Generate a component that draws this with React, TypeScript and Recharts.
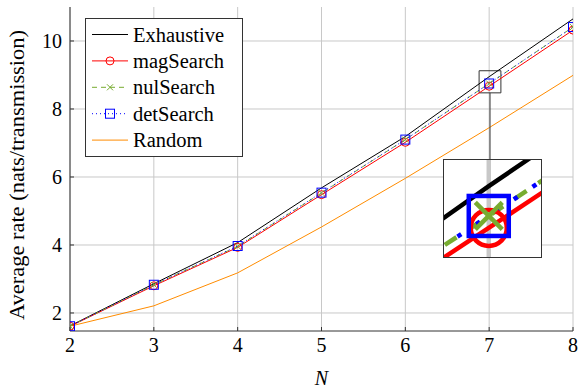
import React from 'react';
import {
  LineChart,
  Line,
  XAxis,
  YAxis,
  CartesianGrid,
  ReferenceArea,
  ReferenceLine,
  Legend,
} from 'recharts';

// ---------------- data ----------------
const nValues = [2, 3, 4, 5, 6, 7, 8];
const exhaustive = [1.62, 2.86, 4.07, 5.68, 7.19, 8.95, 10.65];
const magSearch = [1.61, 2.8, 3.93, 5.48, 7.02, 8.67, 10.32];
const nulSearch = [1.61, 2.83, 3.96, 5.53, 7.1, 8.75, 10.41];
const detSearch = [1.61, 2.83, 3.97, 5.54, 7.1, 8.75, 10.41];
const randomSel = [1.61, 2.21, 3.18, 4.53, 5.96, 7.45, 8.99];

const xTicks = [2, 3, 4, 5, 6, 7, 8];
const yTicks = [2, 4, 6, 8, 10];
const xDomain: [number, number] = [2, 8];
const yDomain: [number, number] = [1.47, 11.0];

// zoom window shown in the inset
const zoomX: [number, number] = [6.88, 7.14];
const zoomY: [number, number] = [8.475, 9.125];
const connectorBottomY = 6.5;

const seriesNames = ['Exhaustive', 'magSearch', 'nulSearch', 'detSearch', 'Random'];

const data = nValues.map((n, i) => ({
  n,
  exhaustive: exhaustive[i],
  magSearch: magSearch[i],
  nulSearch: nulSearch[i],
  detSearch: detSearch[i],
  random: randomSel[i],
}));

// ---------------- style ----------------
const FONT = "'Liberation Serif', 'DejaVu Serif', serif";
const FRAME = '#333333';
const GRID = '#c8c8c8';
const BLACK = '#000000';
const RED = '#ff0000';
const GREEN = '#77ac30';
const BLUE = '#0000ff';
const ORANGE = '#ff8c00';

type MarkerKind = 'circle' | 'cross' | 'square';

function Marker({ kind, cx, cy, s, color, sw }: { kind: MarkerKind; cx: number; cy: number; s: number; color: string; sw: number }) {
  if (kind === 'circle') return <circle cx={cx} cy={cy} r={s} fill="none" stroke={color} strokeWidth={sw} />;
  if (kind === 'square')
    return <rect x={cx - s} y={cy - s} width={2 * s} height={2 * s} fill="none" stroke={color} strokeWidth={sw} />;
  return (
    <g stroke={color} strokeWidth={sw}>
      <line x1={cx - s} y1={cy - s} x2={cx + s} y2={cy + s} />
      <line x1={cx - s} y1={cy + s} x2={cx + s} y2={cy - s} />
    </g>
  );
}

const makeDot = (kind: MarkerKind, s: number, color: string, sw: number) => (p: any) => {
  const { cx, cy, index } = p;
  if (cx == null || cy == null || !isFinite(cx) || !isFinite(cy)) return <g key={`d-${index}`} />;
  return (
    <g key={`d-${index}`}>
      <Marker kind={kind} cx={cx} cy={cy} s={s} color={color} sw={sw} />
    </g>
  );
};

// ---------------- legend ----------------
const legendRows: { color: string; dash?: string; marker?: MarkerKind; s?: number }[] = [
  { color: BLACK },
  { color: RED, marker: 'circle', s: 4 },
  { color: GREEN, dash: '5 4', marker: 'cross', s: 3 },
  { color: BLUE, dash: '1 3', marker: 'square', s: 4.5 },
  { color: ORANGE },
];

const renderLegend = () => (
  <svg width={158} height={139} style={{ display: 'block' }}>
    <rect x={0.5} y={0.5} width={157} height={138} fill="#ffffff" stroke={FRAME} strokeWidth={1} />
    {legendRows.map((r, i) => {
      const y = 16.5 + i * 26.4;
      return (
        <g key={i}>
          <line x1={7} x2={43} y1={y} y2={y} stroke={r.color} strokeWidth={1} strokeDasharray={r.dash} />
          {r.marker && <Marker kind={r.marker} cx={25} cy={y} s={r.s || 4} color={r.color} sw={1} />}
          <text x={48} y={y} dy="0.35em" style={{ fontFamily: FONT, fontSize: 20.5 }} fill="#000">
            {seriesNames[i]}
          </text>
        </g>
      );
    })}
  </svg>
);

// ---------------- labels ----------------
const YTitle = (props: any) => {
  const vb = props.viewBox || { x: 0, y: 0, width: 70, height: 324 };
  const x = vb.x + 17;
  const y = vb.y + vb.height / 2 + 6;
  return (
    <text
      x={x}
      y={y}
      transform={`rotate(-90 ${x} ${y})`}
      textAnchor="middle"
      dominantBaseline="central"
      textLength={290}
      lengthAdjust="spacingAndGlyphs"
      style={{ fontFamily: FONT, fontSize: 20.5 }}
      fill="#000"
    >
      Average rate (nats/transmission)
    </text>
  );
};

const XTitle = (props: any) => {
  const vb = props.viewBox || { x: 70, y: 331, width: 503, height: 58 };
  return (
    <text
      x={vb.x + vb.width / 2}
      y={vb.y + 47}
      textAnchor="middle"
      dominantBaseline="central"
      style={{ fontFamily: FONT, fontSize: 20, fontStyle: 'italic' }}
      fill="#000"
    >
      N
    </text>
  );
};

const tickStyle = { fontFamily: FONT, fontSize: 20, fill: '#000', style: { fontFamily: FONT } };

export default function App() {
  return (
    <div style={{ position: 'absolute', left: 0, top: 0, width: 579, height: 389, background: '#fff', fontFamily: FONT }}>
      <LineChart width={579} height={389} data={data} margin={{ top: 7, right: 6, bottom: 0, left: 0 }}>
        <CartesianGrid stroke={GRID} strokeWidth={1} horizontalValues={yTicks} verticalValues={xTicks} />
        <XAxis
          dataKey="n"
          type="number"
          domain={xDomain}
          ticks={xTicks}
          allowDataOverflow
          height={58}
          stroke={FRAME}
          tickSize={-4}
          tickMargin={10.5}
          tick={tickStyle}
          label={<XTitle />}
        />
        <XAxis
          xAxisId="top"
          orientation="top"
          type="number"
          dataKey="n"
          domain={xDomain}
          ticks={xTicks}
          allowDataOverflow
          height={0}
          stroke={FRAME}
          tickSize={-4}
          tick={{ fill: 'none', fontSize: 1 }}
        />
        <YAxis
          type="number"
          domain={yDomain}
          ticks={yTicks}
          allowDataOverflow
          width={70}
          stroke={FRAME}
          tickSize={-4}
          tickMargin={12}
          tick={tickStyle}
          label={<YTitle />}
        />
        <YAxis
          yAxisId="right"
          orientation="right"
          type="number"
          domain={yDomain}
          ticks={yTicks}
          allowDataOverflow
          width={0}
          stroke={FRAME}
          tickSize={-4}
          tick={{ fill: 'none', fontSize: 1 }}
        />
        <Legend
          layout="vertical"
          align="center"
          verticalAlign="middle"
          content={renderLegend}
          wrapperStyle={{ position: 'absolute', left: 85, top: 18, width: 158, height: 139 }}
        />
        <Line dataKey="random" stroke={ORANGE} strokeWidth={1} dot={false} isAnimationActive={false} />
        <Line dataKey="exhaustive" stroke={BLACK} strokeWidth={1} dot={false} isAnimationActive={false} />
        <Line
          dataKey="magSearch"
          stroke={RED}
          strokeWidth={1}
          dot={makeDot('circle', 4, RED, 1)}
          isAnimationActive={false}
        />
        <Line
          dataKey="nulSearch"
          stroke={GREEN}
          strokeWidth={1}
          strokeDasharray="5 4"
          dot={makeDot('cross', 3, GREEN, 1)}
          isAnimationActive={false}
        />
        <Line
          dataKey="detSearch"
          stroke={BLUE}
          strokeWidth={1}
          strokeDasharray="1 3"
          dot={makeDot('square', 4.5, BLUE, 1)}
          isAnimationActive={false}
        />
        <ReferenceArea
          x1={zoomX[0]}
          x2={zoomX[1]}
          y1={zoomY[0]}
          y2={zoomY[1]}
          fill="none"
          fillOpacity={0}
          stroke={FRAME}
          strokeWidth={1}
          strokeOpacity={1}
        />
        <ReferenceLine
          segment={[
            { x: (zoomX[0] + zoomX[1]) / 2, y: zoomY[0] },
            { x: (zoomX[0] + zoomX[1]) / 2, y: connectorBottomY },
          ]}
          stroke={FRAME}
          strokeWidth={1}
        />
      </LineChart>

      {/* inset magnification */}
      <div
        style={{
          position: 'absolute',
          left: 443,
          top: 159,
          width: 99,
          height: 99,
          boxSizing: 'border-box',
          border: `1px solid ${FRAME}`,
          background: '#fff',
          overflow: 'hidden',
        }}
      >
        <LineChart width={97} height={97} data={data} margin={{ top: 0, right: 0, bottom: 0, left: 0 }}>
          <XAxis dataKey="n" type="number" domain={zoomX} allowDataOverflow hide />
          <YAxis type="number" domain={zoomY} allowDataOverflow hide />
          <ReferenceLine x={7} stroke={GRID} strokeWidth={4.5} />
          <Line dataKey="random" stroke={ORANGE} strokeWidth={4.5} dot={false} isAnimationActive={false} />
          <Line dataKey="exhaustive" stroke={BLACK} strokeWidth={4.5} dot={false} isAnimationActive={false} />
          <Line
            dataKey="magSearch"
            stroke={RED}
            strokeWidth={4.5}
            dot={makeDot('circle', 18, RED, 4.5)}
            isAnimationActive={false}
          />
          <Line
            dataKey="nulSearch"
            stroke={GREEN}
            strokeWidth={4.5}
            strokeDasharray="14 14"
            dot={makeDot('cross', 13.5, GREEN, 4.5)}
            isAnimationActive={false}
          />
          <Line
            dataKey="detSearch"
            stroke={BLUE}
            strokeWidth={4.5}
            strokeDasharray="4.5 18"
            dot={makeDot('square', 20, BLUE, 4.5)}
            isAnimationActive={false}
          />
        </LineChart>
      </div>
    </div>
  );
}
